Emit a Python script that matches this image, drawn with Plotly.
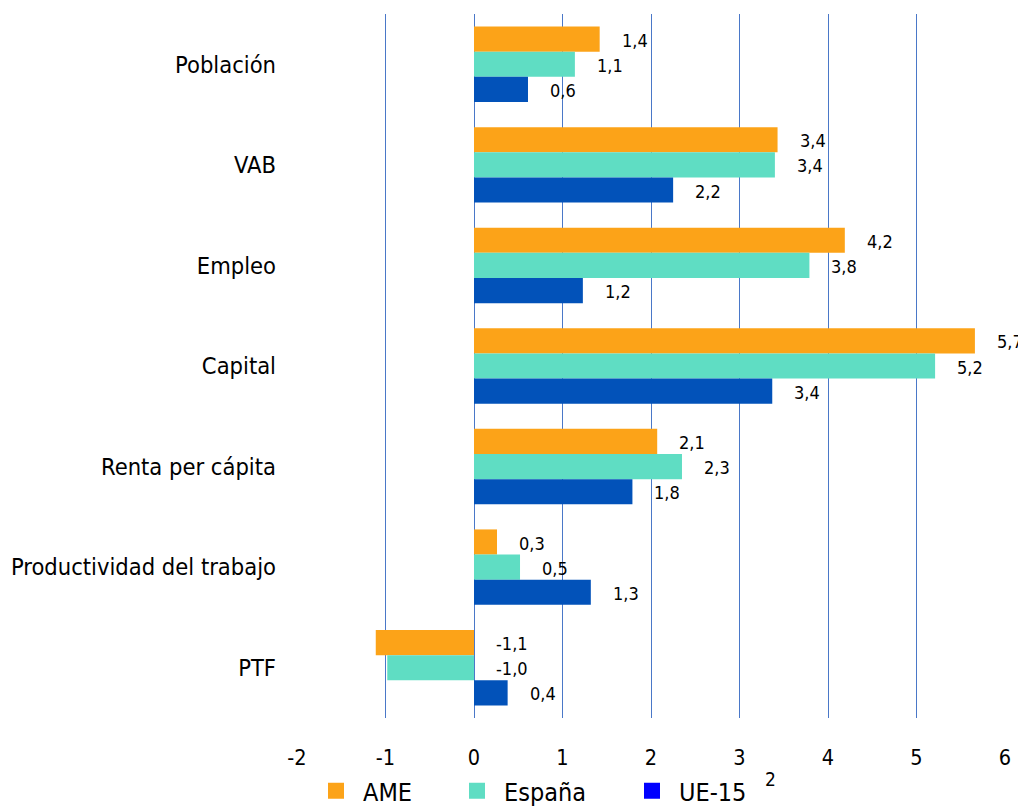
import plotly.graph_objects as go

categories = ["Población", "VAB", "Empleo", "Capital", "Renta per cápita",
              "Productividad del trabajo", "PTF"]
ame = [1.42, 3.43, 4.19, 5.66, 2.07, 0.26, -1.11]
espana = [1.14, 3.40, 3.79, 5.21, 2.35, 0.52, -0.98]
ue15 = [0.61, 2.25, 1.23, 3.37, 1.79, 1.32, 0.38]
ame_lbl = ["1,4", "3,4", "4,2", "5,7", "2,1", "0,3", "-1,1"]
espana_lbl = ["1,1", "3,4", "3,8", "5,2", "2,3", "0,5", "-1,0"]
ue15_lbl = ["0,6", "2,2", "1,2", "3,4", "1,8", "1,3", "0,4"]
x_ticks = [-2, -1, 0, 1, 2, 3, 4, 5, 6]
x_tick_text = ["-2", "-1", "0", "1", "2", "3", "4", "5", "6"]

FONT = "DejaVu Sans Condensed, DejaVu Sans, sans-serif"
series = [
    ("AME", ame, ame_lbl, "#FCA318", "#FCA318", "legend"),
    ("España", espana, espana_lbl, "#5FDDC3", "#5FDDC3", "legend2"),
    ("UE-15", ue15, ue15_lbl, "#0252B9", "#0000FF", "legend3"),
]

fig = go.Figure()
for name, vals, lbls, col, legcol, leg in series:
    fig.add_trace(go.Bar(y=categories, x=vals, orientation="h", name=name,
                         marker=dict(color=col, line=dict(width=0)),
                         showlegend=False, hoverinfo="x+y"))
for name, vals, lbls, col, legcol, leg in series:
    fig.add_trace(go.Scatter(x=[None], y=[None], mode="markers", name=name,
                             legend=leg,
                             marker=dict(symbol="square", size=20, color=legcol)))

# value labels
annotations = []
offsets = [-0.25, 0.0, 0.25]
for k, (name, vals, lbls, col, legcol, leg) in enumerate(series):
    for i, (v, t) in enumerate(zip(vals, lbls)):
        annotations.append(dict(x=max(v, 0), y=i + offsets[k], xref="x", yref="y",
                                text=t, showarrow=False, xanchor="left",
                                xshift=20, yshift=-1,
                                font=dict(family=FONT, size=18, color="#000")))
annotations.append(dict(x=(770 - 297) / 708, y=-(779 - 718) / 704,
                        xref="paper", yref="paper", text="2",
                        xanchor="center", yanchor="middle",
                        showarrow=False, font=dict(family=FONT, size=19, color="#000")))

leg_common = dict(orientation="h", xanchor="left", y=-(791 - 718) / 704,
                  yanchor="middle", font=dict(size=25), itemwidth=44,
                  bgcolor="rgba(0,0,0,0)")
fig.update_layout(
    width=1018, height=798,
    margin=dict(l=289, r=21, t=6, b=88, autoexpand=False),
    paper_bgcolor="white", plot_bgcolor="white",
    barmode="group", bargap=0.25, bargroupgap=0,
    font=dict(family=FONT, size=20, color="#000"),
    xaxis=dict(range=[-2, 6], tickvals=x_ticks, ticktext=x_tick_text,
               showgrid=True, gridcolor="#4A78C8",
               gridwidth=1, zeroline=False, showline=False,
               ticklabelstandoff=24, tickfont=dict(size=21.5)),
    yaxis=dict(autorange="reversed", showgrid=False, zeroline=False, showline=False,
               ticklabelstandoff=20, tickfont=dict(size=23.5)),
    legend=dict(x=(309 - 297) / 708, **leg_common),
    legend2=dict(x=(450 - 297) / 708, **leg_common),
    legend3=dict(x=(625 - 297) / 708, **leg_common),
    annotations=annotations,
)
fig.write_html("out.html")
